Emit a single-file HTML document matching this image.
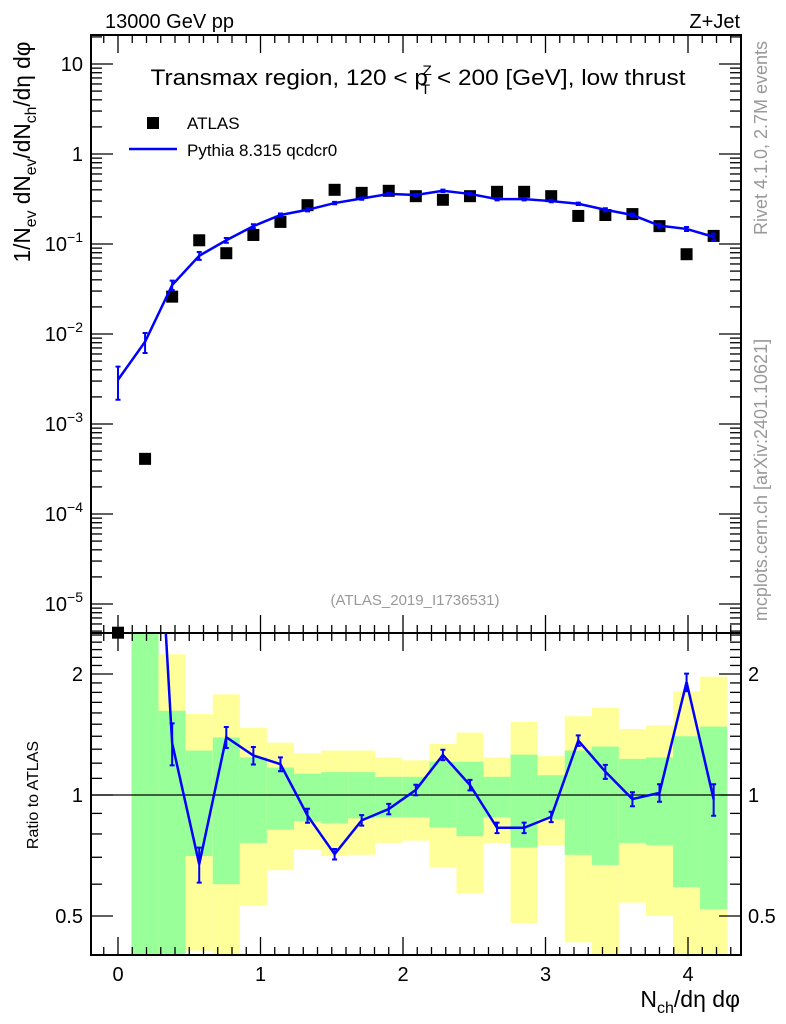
<!DOCTYPE html>
<html><head><meta charset="utf-8"><style>
html,body{margin:0;padding:0;background:#fff;}
svg{display:block;font-family:"Liberation Sans","DejaVu Sans",sans-serif;}
</style></head><body>
<svg id="chart" width="786" height="1024" viewBox="0 0 786 1024" xmlns="http://www.w3.org/2000/svg">
<g id="bands"></g>
<g id="grid"></g>
<g id="marks"></g>
<text x="105" y="28" font-size="20">13000 GeV pp</text>
<text x="740" y="28" font-size="20" text-anchor="end">Z+Jet</text>
<text x="418" y="85" font-size="22" text-anchor="middle" textLength="535" lengthAdjust="spacingAndGlyphs">Transmax region, 120 &lt; p<tspan font-size="14" dy="-10" dx="-5">Z</tspan><tspan font-size="14" dy="19" dx="-10">T</tspan><tspan dy="-9"> &lt; 200 [GeV], low thrust</tspan></text>
<rect x="147" y="117" width="12" height="12" fill="#000"/>
<text x="187" y="129" font-size="17">ATLAS</text>
<line x1="129" y1="149" x2="177" y2="149" stroke="#0000ff" stroke-width="2.5"/>
<text x="187" y="156" font-size="17">Pythia 8.315 qcdcr0</text>
<text x="415" y="605" font-size="15" fill="#999" text-anchor="middle">(ATLAS_2019_I1736531)</text>
<text transform="translate(767,138) rotate(-90)" font-size="18" fill="#999" text-anchor="middle">Rivet 4.1.0,  2.7M events</text>
<text transform="translate(767,480) rotate(-90)" font-size="18" fill="#999" text-anchor="middle">mcplots.cern.ch [arXiv:2401.10621]</text>
<text transform="translate(30,152) rotate(-90)" font-size="23" text-anchor="middle" textLength="221" lengthAdjust="spacingAndGlyphs">1/N<tspan font-size="16" dy="6">ev</tspan><tspan dy="-6"> dN</tspan><tspan font-size="16" dy="6">ev</tspan><tspan dy="-6">/dN</tspan><tspan font-size="16" dy="6">ch</tspan><tspan dy="-6">/dη dφ</tspan></text>
<text transform="translate(38,795) rotate(-90)" font-size="16" text-anchor="middle">Ratio to ATLAS</text>
<text x="740" y="1007" font-size="23" text-anchor="end">N<tspan font-size="16" dy="6">ch</tspan><tspan dy="-6">/dη dφ</tspan></text>
</svg>
<script>
const xCenters=[0,0.19,0.38,0.57,0.76,0.95,1.14,1.33,1.52,1.71,1.90,2.09,2.28,2.47,2.66,2.85,3.04,3.23,3.42,3.61,3.80,3.99,4.18];
const atlasValues=[4.8e-6,4.1e-4,0.026,0.11,0.079,0.126,0.176,0.27,0.40,0.37,0.39,0.34,0.31,0.34,0.38,0.38,0.34,0.205,0.21,0.215,0.158,0.077,0.123];
const pythiaValues=[0.0031,0.0082,0.035,0.074,0.11,0.158,0.21,0.24,0.285,0.32,0.36,0.35,0.39,0.36,0.315,0.315,0.30,0.28,0.24,0.21,0.16,0.147,0.12];
const pythiaRelErr=[0.4,0.25,0.12,0.1,0.06,0.05,0.04,0.04,0.03,0.03,0.03,0.03,0.03,0.03,0.03,0.03,0.03,0.03,0.04,0.04,0.05,0.05,0.09];
const greenHi=[null,3,1.62,1.29,1.39,1.24,1.17,1.13,1.14,1.14,1.11,1.11,1.21,1.21,1.11,1.26,1.12,1.29,1.32,1.23,1.24,1.40,1.48];
const greenLo=[null,0.3,0.35,0.705,0.60,0.76,0.82,0.86,0.85,0.875,0.88,0.88,0.83,0.79,0.88,0.74,0.87,0.71,0.67,0.76,0.75,0.59,0.52];
const yellowHi=[null,3,2.24,1.59,1.78,1.47,1.35,1.27,1.29,1.29,1.24,1.22,1.34,1.43,1.24,1.52,1.25,1.57,1.65,1.46,1.49,1.81,1.97];
const yellowLo=[null,0.3,0.3,0.41,0.3,0.53,0.65,0.73,0.705,0.71,0.76,0.77,0.66,0.57,0.76,0.48,0.75,0.43,0.3,0.54,0.50,0.3,0.3];
const binWidth=0.19;
const xTicks=[0,1,2,3,4];
const mainTicks=[-5,-4,-3,-2,-1,0,1];
const ratioTicks=[0.5,1,2];

const L=91,R=741,T=35,M=633,B=955;
const X=v=>118+v*142.5;
const Y=v=>154-Math.log10(v)*90;
const YR=v=>795-Math.log10(v)*402;
const NS="http://www.w3.org/2000/svg";
function mk(parent,tag,attrs){const e=document.createElementNS(NS,tag);for(const k in attrs)e.setAttribute(k,attrs[k]);document.getElementById(parent).appendChild(e);return e;}
const clampR=v=>Math.min(B,Math.max(M,YR(v)));

for(let i=0;i<xCenters.length;i++){
  if(greenHi[i]===null)continue;
  const x0=X(xCenters[i]-binWidth/2),w=binWidth*142.5;
  const y1=mk('bands','rect',{x:x0,y:clampR(yellowHi[i]),width:w,height:clampR(yellowLo[i])-clampR(yellowHi[i]),fill:'#ffff99'});
  
  
  const g1=mk('bands','rect',{x:x0,y:clampR(greenHi[i]),width:w,height:clampR(greenLo[i])-clampR(greenHi[i]),fill:'#99ff99'});
  
  
}
for(const [y0,y1] of [[T,M],[M,B]]){
  const f=mk('grid','rect',{x:L,y:y0,width:R-L,height:y1-y0,fill:'none',stroke:'#000','stroke-width':2});
  
  
}
const ln=(x1,y1,x2,y2,w)=>mk('grid','line',{x1,y1,x2,y2,stroke:'#000','stroke-width':w||1});
for(let t=-0.1;t<=4.4;t+=0.1){
  const v=Math.round(t*10)/10,x=X(v);if(x<L||x>R)continue;
  const maj=Math.abs(v-Math.round(v))<1e-6,len=maj?18:8;
  for(const [ya,dir] of [[T,1],[M,-1],[M,1],[B,-1]]) ln(x,ya,x,ya+dir*len,1.3);
}
xTicks.forEach(v=>{const t=mk('grid','text',{x:X(v),y:981,'font-size':20,'text-anchor':'middle'});t.textContent=v;

});
for(let d=-6;d<=1;d++){for(let m=1;m<10;m++){const v=m*Math.pow(10,d),y=Y(v);if(y<T||y>M)continue;
const len=m===1?22:11;ln(L,y,L+len,y,1.3);ln(R,y,R-len,y,1.3);}}
mainTicks.forEach(e=>{const y=Y(Math.pow(10,e));const t=mk('grid','text',{x:83,y:y+7,'font-size':20,'text-anchor':'end'});
if(e===0)t.textContent='1';else if(e===1)t.textContent='10';else{t.textContent='10';const s=document.createElementNS(NS,'tspan');s.setAttribute('dy','-9');s.setAttribute('font-size','14');s.textContent='\u2212'+(-e);t.appendChild(s);}

});
for(let v=0.4;v<=2.6;v+=0.1){const vv=Math.round(v*10)/10,y=YR(vv);if(y<M||y>B)continue;
const maj=ratioTicks.includes(vv),len=maj?22:11;ln(L,y,L+len,y,1.3);ln(R,y,R-len,y,1.3);}
ratioTicks.forEach(v=>{for(const [x,a] of [[83,'end'],[748,'start']]){const t=mk('grid','text',{x,y:YR(v)+7,'font-size':20,'text-anchor':a});t.textContent=v;

}});
const one=ln(L,YR(1),R,YR(1),1.3);



atlasValues.forEach((v,i)=>{const y=Math.min(M,Y(v));const r=mk('marks','rect',{x:X(xCenters[i])-6,y:y-6,width:12,height:12,fill:'#000'});

});
const cp=document.createElementNS(NS,'clipPath');cp.setAttribute('id','cm');const cr=document.createElementNS(NS,'rect');
cr.setAttribute('x',L);cr.setAttribute('y',T);cr.setAttribute('width',R-L);cr.setAttribute('height',M-T);cp.appendChild(cr);document.getElementById('chart').appendChild(cp);
const cp2=document.createElementNS(NS,'clipPath');cp2.setAttribute('id','cr');const cr2=document.createElementNS(NS,'rect');
cr2.setAttribute('x',L);cr2.setAttribute('y',M);cr2.setAttribute('width',R-L);cr2.setAttribute('height',B-M);cp2.appendChild(cr2);document.getElementById('chart').appendChild(cp2);

const mainPts=pythiaValues.map((v,i)=>X(xCenters[i])+','+Y(v)).join(' ');
const pl=mk('marks','polyline',{points:mainPts,fill:'none',stroke:'#0000ff','stroke-width':2.5,'clip-path':'url(#cm)'});


pythiaValues.forEach((v,i)=>{const x=X(xCenters[i]);const yh=Y(v*(1+pythiaRelErr[i])),yl=Y(v*(1-pythiaRelErr[i]));
const e=mk('marks','path',{d:`M${x},${yh}V${yl}M${x-2.5},${yh}H${x+2.5}M${x-2.5},${yl}H${x+2.5}`,stroke:'#0000ff','stroke-width':2,fill:'none'});

});
const ratios=pythiaValues.map((v,i)=>v/atlasValues[i]);
const rPts=ratios.map((r,i)=>X(xCenters[i])+','+YR(r)).join(' ');
const rl=mk('marks','polyline',{points:rPts,fill:'none',stroke:'#0000ff','stroke-width':2.5,'clip-path':'url(#cr)'});


ratios.forEach((r,i)=>{const x=X(xCenters[i]);const yh=YR(r*(1+pythiaRelErr[i])),yl=YR(r*(1-pythiaRelErr[i]));
if(YR(r)<M||YR(r)>B)return;
const e=mk('marks','path',{d:`M${x},${yh}V${yl}M${x-2.5},${yh}H${x+2.5}M${x-2.5},${yl}H${x+2.5}`,stroke:'#0000ff','stroke-width':2,fill:'none','clip-path':'url(#cr)'});

});
</script>
</body></html>
